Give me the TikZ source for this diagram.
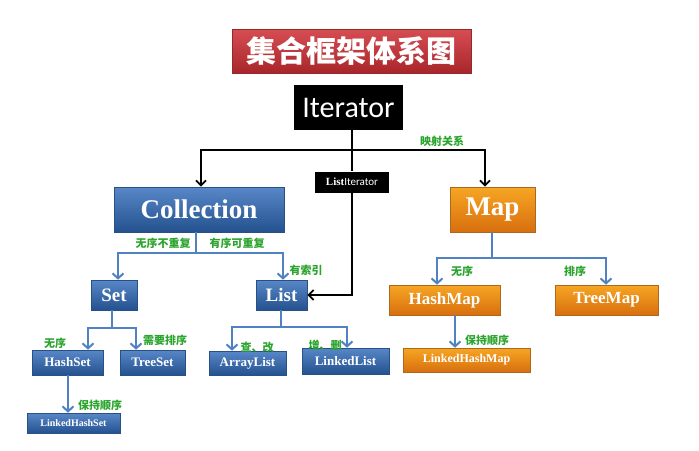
\documentclass[tikz,border=0pt]{standalone}
\usepackage{fontspec}
\setmainfont{Liberation Serif}
\newfontfamily\cjk{Noto Sans CJK SC}
\newfontfamily\carl{Carlito}
\usetikzlibrary{arrows.meta}
\definecolor{bl}{HTML}{3B72BE}
\definecolor{bld}{HTML}{24528F}
\definecolor{ora}{HTML}{F5962A}
\definecolor{orad}{HTML}{D86F0E}
\definecolor{rd}{HTML}{D23A3F}
\definecolor{rdd}{HTML}{A8262B}
\definecolor{gr}{HTML}{2BA52E}
\definecolor{ln}{HTML}{4F82C3}
\tikzset{
 box/.style={draw=#1!70!black,line width=0.6pt,inner sep=0pt,text=white,font=\bfseries},
 bbox/.style={box=bl,top color=bl!85!white,bottom color=bld},
 obox/.style={box=ora,top color=ora!85!yellow,bottom color=orad},
 kbox/.style={fill=black,text=white,inner sep=0pt},
 lbl/.style={text=gr,font=\cjk\bfseries\fontsize{11}{11}\selectfont,inner sep=0pt},
 bline/.style={draw=ln,line width=2.6pt,-{Straight Barb[length=5pt,width=11pt,line width=2pt]}},
 kline/.style={draw=black,line width=2pt,-{Straight Barb[length=5pt,width=10pt,line width=1.8pt]}},
}
\begin{document}
\begin{tikzpicture}[x=1pt,y=-1pt]
\useasboundingbox (0,0) rectangle (699,450);
\fill[white] (0,0) rectangle (699,450);
% title
\node[box=rd,top color=rd!90!white,bottom color=rdd,minimum width=239,minimum height=44,font=\cjk\bfseries\fontsize{30}{30}\selectfont] (title) at (351.5,51) {集合框架体系图};
\node[kbox,minimum width=109,minimum height=45,font=\carl\fontsize{30}{30}\selectfont] (it) at (348.5,107.5) {Iterator};
\node[kbox,minimum width=74,minimum height=21,font=\fontsize{11}{11}\selectfont] (li) at (352,182) {\textbf{List}\carl Iterator};
\node[bbox,minimum width=170,minimum height=45,font=\bfseries\fontsize{27}{27}\selectfont] (coll) at (199,209.5) {Collection};
\node[obox,minimum width=85,minimum height=45,font=\bfseries\fontsize{27}{27}\selectfont] (map) at (492.5,209.5) {Map};
\node[bbox,minimum width=46,minimum height=30,font=\bfseries\fontsize{19}{19}\selectfont] (set) at (114,295) {Set};
\node[bbox,minimum width=51,minimum height=30,font=\bfseries\fontsize{19}{19}\selectfont] (list) at (281.5,295) {List};
\node[bbox,minimum width=71,minimum height=25,font=\bfseries\fontsize{13}{13}\selectfont] (hs) at (67.5,362.5) {HashSet};
\node[bbox,minimum width=65,minimum height=25,font=\bfseries\fontsize{13}{13}\selectfont] (ts) at (152.5,362.5) {TreeSet};
\node[bbox,minimum width=77,minimum height=24,font=\bfseries\fontsize{13}{13}\selectfont] (al) at (247.5,363) {ArrayList};
\node[bbox,minimum width=87,minimum height=26,font=\bfseries\fontsize{13}{13}\selectfont] (ll) at (345.5,361) {LinkedList};
\node[bbox,minimum width=93,minimum height=20,font=\bfseries\fontsize{10}{10}\selectfont] (lhs) at (73.5,423) {LinkedHashSet};
\node[obox,minimum width=111,minimum height=30,font=\bfseries\fontsize{17}{17}\selectfont] (hm) at (444.5,300) {HashMap};
\node[obox,minimum width=103,minimum height=30,font=\bfseries\fontsize{17}{17}\selectfont] (tm) at (606.5,300) {TreeMap};
\node[obox,minimum width=127,minimum height=24,font=\bfseries\fontsize{12}{12}\selectfont] (lhm) at (466.5,360) {LinkedHashMap};
% black connectors
\coordinate (jk) at (352,150);
\draw[black,line width=2pt] (it.south -| jk) -- (li.north);
\draw[kline] (jk) -| (coll.north -| 201,0);
\draw[kline] (jk) -| (map.north -| 485,0);
\draw[kline] (li.south) |- (list.east);
\node[lbl] at (442,141) {映射关系};
% collection
\coordinate (jc) at (196,253);
\draw[ln,line width=2.6pt] (coll.south -| jc) -- (jc);
\draw[bline] (jc) -| (set.north -| 118,0);
\draw[bline] (jc) -| (list.north -| 283,0);
\node[lbl] at (163,243) {无序不重复};
\node[lbl] at (237,243) {有序可重复};
\node[lbl] at (306,270) {有索引};
% set
\coordinate (js) at (112,328);
\draw[ln,line width=2.6pt] (set.south -| js) -- (js);
\draw[bline] (js) -| (hs.north -| 88,0);
\draw[bline] (js) -| (ts.north -| 136,0);
\node[lbl] at (55,343) {无序};
\node[lbl] at (165,340) {需要排序};
\draw[bline] (hs.south -| 68,0) -- (lhs.north -| 68,0);
\node[lbl] at (100,405) {保持顺序};
% list
\coordinate (jl) at (281,327);
\draw[ln,line width=2.6pt] (list.south -| jl) -- (jl);
\draw[bline] (jl) -| (al.north -| 232,0);
\draw[bline] (jl) -| (ll.north -| 347,0);
\node[lbl] at (257,347) {查、改};
\node[lbl] at (325,345) {增、删};
% map
\coordinate (jm) at (492,258);
\draw[ln,line width=2.6pt] (map.south -| jm) -- (jm);
\draw[bline] (jm) -| (hm.north -| 437,0);
\draw[bline] (jm) -| (tm.north -| 606,0);
\node[lbl] at (462,271) {无序};
\node[lbl] at (575,271) {排序};
\draw[bline] (hm.south -| 455,0) -- (lhm.north -| 455,0);
\node[lbl] at (487,340) {保持顺序};
\end{tikzpicture}
\end{document}
